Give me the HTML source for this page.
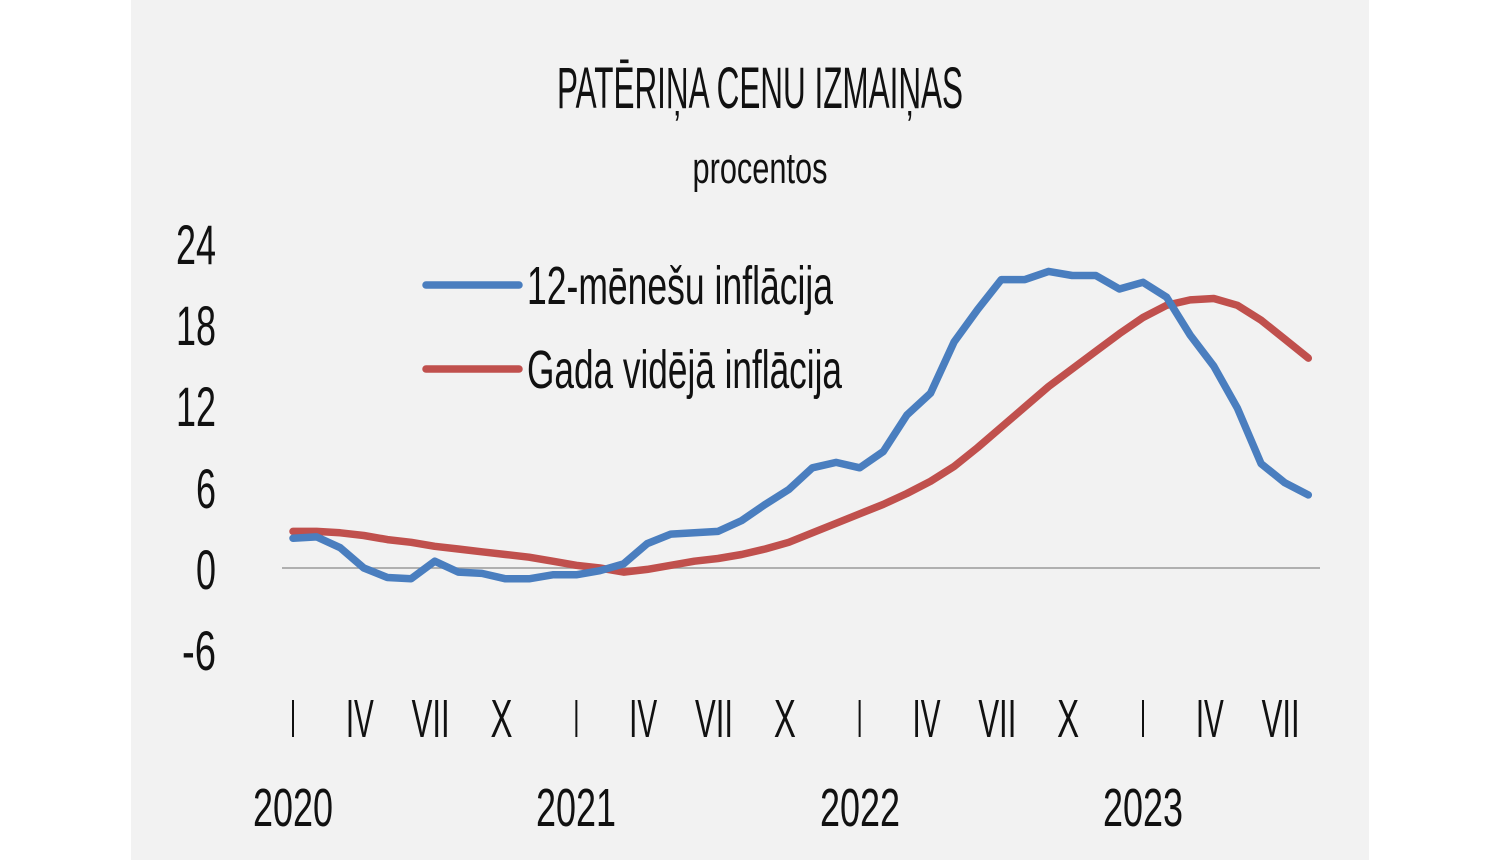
<!DOCTYPE html>
<html><head><meta charset="utf-8"><style>
html,body{margin:0;padding:0;background:#fff;}
svg{display:block;}
text{font-family:"Liberation Sans Narrow","Liberation Sans",sans-serif;fill:#111;}
</style></head><body>
<svg width="1500" height="860" viewBox="0 0 1500 860">
<rect x="131" y="0" width="1238" height="860" fill="#f2f2f2"/>
<text x="760" y="108" font-size="58" text-anchor="middle" textLength="406" lengthAdjust="spacingAndGlyphs">PATĒRIŅA CENU IZMAIŅAS</text>
<text x="760" y="183" font-size="44" text-anchor="middle" textLength="135" lengthAdjust="spacingAndGlyphs">procentos</text>
<g font-size="56" text-anchor="end">
<text x="216" y="264" textLength="40" lengthAdjust="spacingAndGlyphs">24</text>
<text x="216" y="345" textLength="40" lengthAdjust="spacingAndGlyphs">18</text>
<text x="216" y="426" textLength="40" lengthAdjust="spacingAndGlyphs">12</text>
<text x="216" y="508" textLength="20" lengthAdjust="spacingAndGlyphs">6</text>
<text x="216" y="589" textLength="20" lengthAdjust="spacingAndGlyphs">0</text>
<text x="216" y="670" textLength="34" lengthAdjust="spacingAndGlyphs">-6</text>
</g>
<line x1="282" y1="568" x2="1320" y2="568" stroke="#999" stroke-width="1.5"/>
<g font-size="54" text-anchor="middle" id="months"></g>
<g font-size="54" text-anchor="middle">
<text x="293" y="826" textLength="80" lengthAdjust="spacingAndGlyphs">2020</text>
<text x="576" y="826" textLength="80" lengthAdjust="spacingAndGlyphs">2021</text>
<text x="860" y="826" textLength="80" lengthAdjust="spacingAndGlyphs">2022</text>
<text x="1143" y="826" textLength="80" lengthAdjust="spacingAndGlyphs">2023</text>
</g>
<polyline id="red" fill="none" stroke="#c0504d" stroke-width="7.5" stroke-linejoin="round" stroke-linecap="round"/>
<polyline id="blue" fill="none" stroke="#4a7ebf" stroke-width="7.5" stroke-linejoin="round" stroke-linecap="round"/>
<line x1="426" y1="285" x2="519" y2="285" stroke="#4a7ebf" stroke-width="7.5" stroke-linecap="round"/>
<line x1="426" y1="369" x2="519" y2="369" stroke="#c0504d" stroke-width="7.5" stroke-linecap="round"/>
<text x="527" y="304" font-size="54" textLength="306" lengthAdjust="spacingAndGlyphs">12-mēnešu inflācija</text>
<text x="527" y="388" font-size="54" textLength="315" lengthAdjust="spacingAndGlyphs">Gada vidējā inflācija</text>
</svg>
<script>
var blue=[2.2,2.3,1.5,0,-0.7,-0.8,0.5,-0.3,-0.4,-0.8,-0.8,-0.5,-0.5,-0.2,0.3,1.8,2.5,2.6,2.7,3.5,4.7,5.8,7.4,7.8,7.4,8.6,11.3,12.9,16.7,19.1,21.3,21.3,21.9,21.6,21.6,20.6,21.1,20.0,17.2,14.9,11.8,7.7,6.3,5.4];
var red=[2.7,2.7,2.6,2.4,2.1,1.9,1.6,1.4,1.2,1.0,0.8,0.5,0.2,0.0,-0.3,-0.1,0.2,0.5,0.7,1.0,1.4,1.9,2.6,3.3,4.0,4.7,5.5,6.4,7.5,8.9,10.4,11.9,13.4,14.7,16.0,17.3,18.5,19.4,19.8,19.9,19.4,18.3,16.9,15.5];
function X(i){return 293+i*(1143-293)/36;}
function Y(v){return 568-v*81.25/6;}
function pts(a){return a.map(function(v,i){return X(i).toFixed(1)+","+Y(v).toFixed(1)}).join(" ");}
document.getElementById("blue").setAttribute("points",pts(blue));
document.getElementById("red").setAttribute("points",pts(red));
var labs=["I","IV","VII","X"],g=document.getElementById("months"),ns="http://www.w3.org/2000/svg";
var widths={"I":6,"IV":28,"VII":38,"X":22};
var off={"I":0,"IV":-4,"VII":-4,"X":-4};
for(var k=0;k<15;k++){var t=document.createElementNS(ns,"text");var l=labs[k%4];t.setAttribute("x",X(k*3)+off[l]);t.setAttribute("y","737");t.setAttribute("textLength",widths[l]);t.setAttribute("lengthAdjust","spacingAndGlyphs");t.textContent=l;g.appendChild(t);}
</script>
</body></html>
